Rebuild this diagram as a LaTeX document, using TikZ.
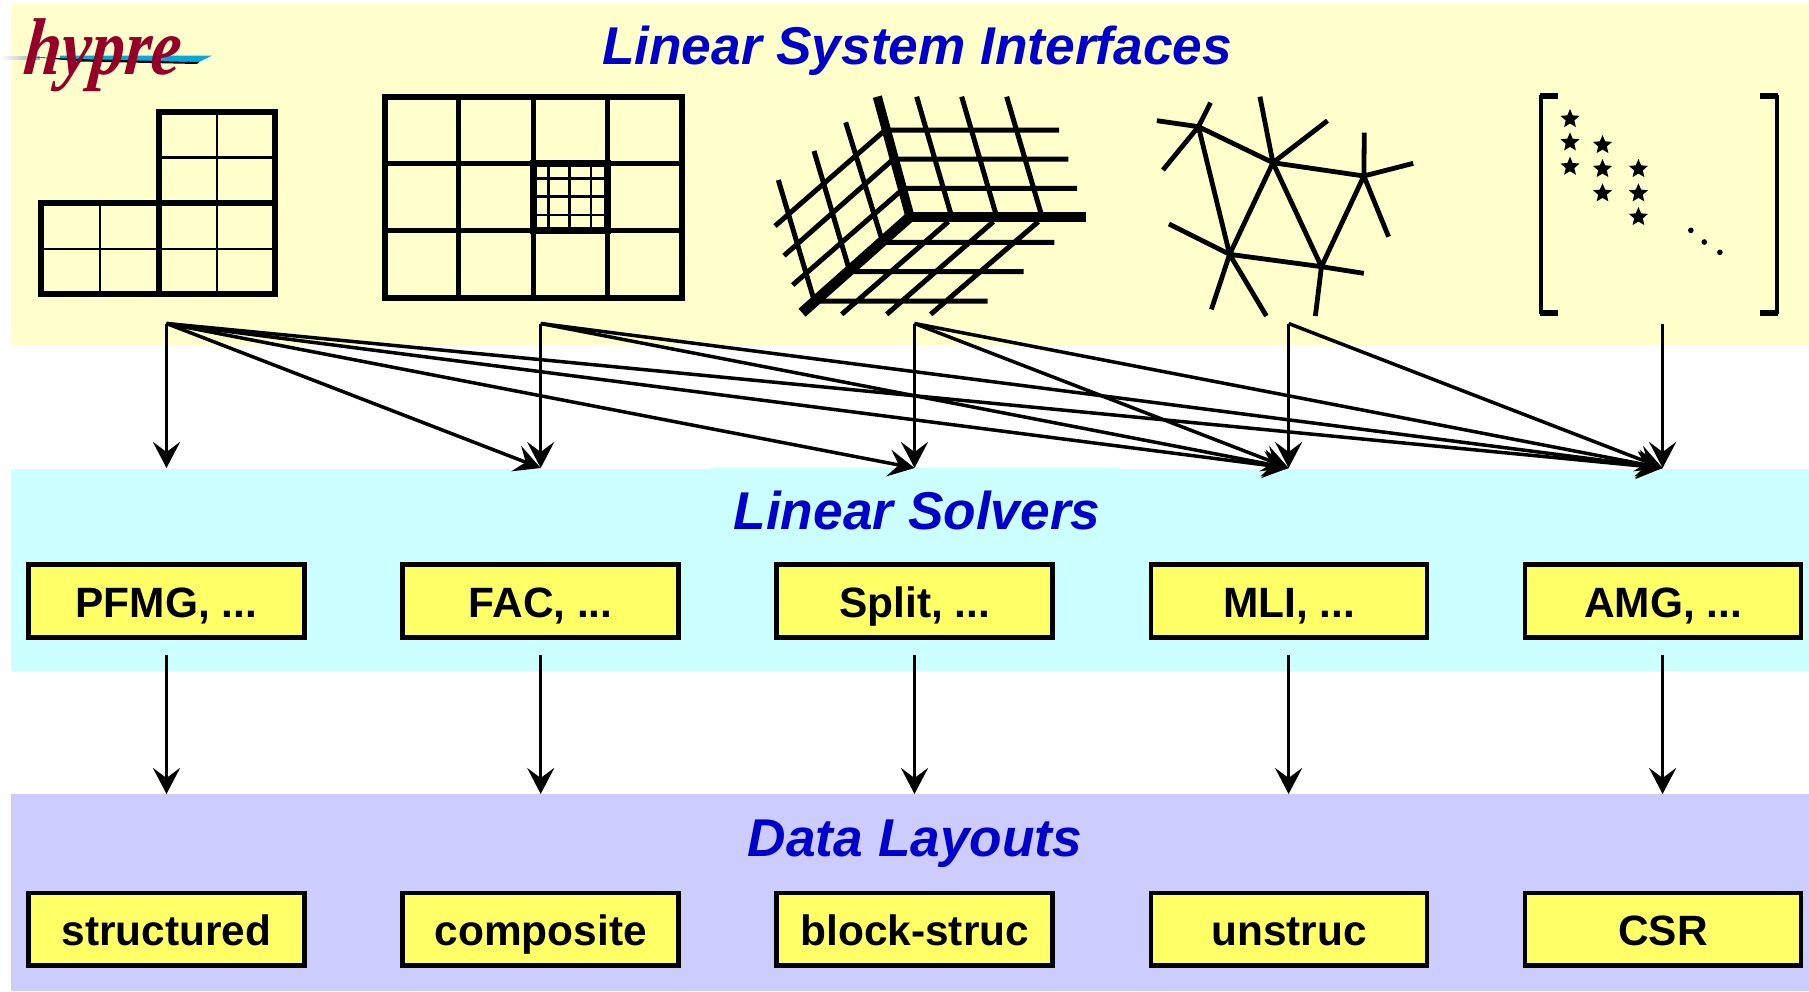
\documentclass[tikz,border=0pt]{standalone}
\usepackage{fontspec}
\setmainfont{Liberation Sans}
\newfontfamily\logofont{Liberation Serif}
\usetikzlibrary{arrows.meta,shapes.geometric}
\definecolor{bandyellow}{RGB}{255,255,204}
\definecolor{bandcyan}{RGB}{204,255,255}
\definecolor{bandlav}{RGB}{204,204,255}
\definecolor{boxyellow}{RGB}{255,255,102}
\definecolor{titleblue}{RGB}{0,0,204}
\definecolor{logored}{RGB}{150,0,40}
\definecolor{logoblue}{RGB}{0,170,220}
\tikzset{
  titletext/.style={anchor=base,inner sep=0pt,text=titleblue,font=\fontsize{26.6pt}{28pt}\selectfont\bfseries\itshape},
  labelbox/.style={draw=black,line width=2.4pt,fill=boxyellow,minimum width=138pt,minimum height=36.2pt,inner sep=0pt,
    text height=16.2pt,text depth=0pt,font=\fontsize{21.2pt}{24pt}\selectfont\bfseries},
  conn/.style={draw=black,line width=1.75pt,-{Stealth[length=13pt,width=13.5pt,inset=5pt]}},
  gthick/.style={line width=3pt,line cap=rect},
  gmid/.style={line width=1.4pt},
  gridline/.style={line width=2.5pt},
  meshline/.style={line width=2.4pt,line cap=butt},
  starmark/.style={star,star points=5,star point ratio=2.2,fill=black,draw=none,minimum size=10pt,inner sep=0pt},
}
\begin{document}
\begin{tikzpicture}[x=0.5pt,y=-0.5pt]
\useasboundingbox (0,0) rectangle (1809,991);
% bands
\fill[bandyellow] (11,4) rectangle (1809,345);
\fill[bandcyan] (11,469) -- (710,469) -- (710,468) -- (1120,468) -- (1120,469) -- (1809,469) -- (1809,671) -- (11,671) -- cycle;
\fill[bandlav] (11,794) rectangle (1809,991);
% logo
\shade[left color=white,right color=gray!70] (0,56) rectangle (40,59);
\fill[logoblue] (60,55.5) -- (212,55.5) -- (199,62) -- (60,59) -- cycle;
\fill[black] (33,57) -- (80,59) -- (199,62) -- (197,64) -- (80,61.5) -- cycle;
\node[anchor=base west,inner sep=0pt,text=logored,font=\logofont\fontsize{35pt}{36pt}\selectfont\bfseries\itshape,xscale=.96,yscale=1.15,xslant=.12,transform shape] (logo) at (22,74) {hypre};
% titles
\node[titletext] (t-interfaces) at (917,64) {Linear System Interfaces};
\node[titletext] (t-solvers) at (917,529) {Linear Solvers};
\node[titletext] (t-layouts) at (915,856) {Data Layouts};
% grid 1
\draw[gmid] (100,203) -- (100,294) (217,112) -- (217,294) (41,249) -- (275,249) (159,157.5) -- (275,157.5);
\draw[gthick] (159,203) -- (275,203) (159,203) -- (159,294)
  (41,203) -- (159,203) -- (159,112) -- (275,112) -- (275,294) -- (41,294) -- cycle;
% grid 2
\draw[gmid] (548.7,163.3) -- (548.7,230.7) (569.8,163.3) -- (569.8,230.7) (591,163.3) -- (591,230.7)
  (533,178.7) -- (607,178.7) (533,196.7) -- (607,196.7) (533,215) -- (607,215);
\draw[line width=2.5pt] (458.7,97) -- (458.7,298) (533,97) -- (533,298) (607,97) -- (607,298)
  (384.8,163.3) -- (682,163.3) (384.8,230.7) -- (682,230.7);
\draw[line width=3.5pt] (533,163.3) rectangle (607,230.7);
\draw[gthick] (384.8,97) rectangle (682,298);
% 3D grid (origin 740,70, scale 1/3)
\begin{scope}[shift={(740,70)},x=0.16667pt,y=-0.16667pt]
  \draw[gridline]
    (430,180) -- (957,180) (455,267) -- (985,267) (490,355) -- (1011,355)
    (530,80) -- (632,430) (665,80) -- (767,430) (800,80) -- (903,430)
    (105,468) -- (430,185) (132,557) -- (455,272) (158,645) -- (480,365)
    (115,330) -- (222,690) (222,243) -- (325,590) (317,157) -- (423,500)
    (425,517) -- (943,517) (325,605) -- (851,605) (225,693) -- (743,693)
    (305,733) -- (625,455) (440,733) -- (760,455) (572,733) -- (895,455);
  \draw[line width=4.6pt] (412,80) -- (510,440);
  \draw[line width=5pt] (510,440) -- (1038,440);
  \draw[line width=5.3pt] (515,436) -- (186,728);
\end{scope}
% mesh
\begin{scope}[shift={(1130,70)},x=0.21654pt,y=-0.16667pt]
  \coordinate (ma) at (158,170);
  \coordinate (mb) at (330,278);
  \coordinate (mc) at (540,318);
  \coordinate (md) at (230,553);
  \coordinate (me) at (442,590);
  \draw[meshline]
    (ma) -- (62,152) (ma) -- (186,98) (ma) -- (76,300) (ma) -- (mb) (ma) -- (md)
    (mb) -- (300,80) (mb) -- (456,152) (mb) -- (mc) (mb) -- (md) (mb) -- (me)
    (mc) -- (541,188) (mc) -- (654,280) (mc) -- (597,500) (mc) -- (me)
    (md) -- (90,462) (md) -- (188,718) (md) -- (315,738) (md) -- (me)
    (me) -- (540,610) (me) -- (428,738);
  % matrix
  \draw[line width=2pt] (950,76) -- (950,732);
  \draw[line width=2pt] (1493,76) -- (1493,732);
  \draw[line width=3pt] (946,78) -- (988,78) (946,730) -- (988,730)
     (1455,78) -- (1497,78) (1455,730) -- (1497,730);
  \foreach \i/\p in {1/{1016,147},2/{1016,217},3/{1016,290},4/{1091,225},5/{1091,297},6/{1091,370},7/{1174,297},8/{1174,370},9/{1174,441}}
    \node[starmark] (star\i) at (\p) {};
  \fill (1295,481) circle [x radius=6.5,y radius=8.5];
  \fill (1326,516) circle [x radius=6.5,y radius=8.5];
  \fill (1362,547) circle [x radius=6.5,y radius=8.5];
\end{scope}
% anchors of connectors
\foreach \n/\x in {1/166.5,2/540.7,3/914.5,4/1288.6,5/1662.6}{
  \coordinate (s\n) at (\x,323.5);
  \coordinate (t\n) at (\x,468);
  \coordinate (u\n) at (\x,654.5);
  \coordinate (v\n) at (\x,794);
}
% boxes
\foreach \n/\x/\a/\b in {1/166.3/{PFMG, ...}/structured,2/540.7/{FAC, ...}/composite,3/914.7/{Split, ...}/block-struc,4/1289/{MLI, ...}/unstruc,5/1663/{AMG, ...}/CSR}{
  \node[labelbox] (solver\n) at (\x,601) {\a};
  \node[labelbox] (layout\n) at (\x,929.2) {\b};
}
% connectors
\foreach \n in {1,...,5}{
  \draw[conn] (s\n) -- (t\n);
  \draw[conn] (u\n) -- (v\n);
}
\foreach \a/\b in {1/2,1/3,1/4,1/5,2/4,2/5,3/4,3/5,4/5}
  \draw[conn] (s\a) -- (t\b);
\end{tikzpicture}
\end{document}
